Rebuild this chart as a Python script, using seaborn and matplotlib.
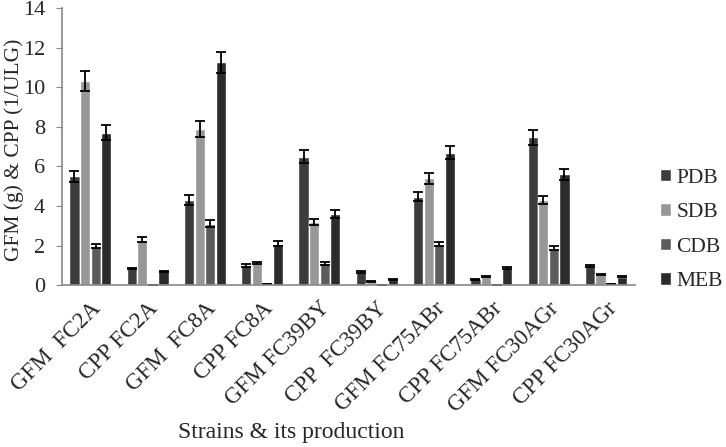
import pandas as pd
import numpy as np
import matplotlib
matplotlib.use('Agg')
import matplotlib.pyplot as plt
import seaborn as sns

# values
strains = ['GFM  FC2A', 'CPP FC2A', 'GFM  FC8A', 'CPP FC8A', 'GFM FC39BY',
           'CPP  FC39BY', 'GFM FC75ABr', 'CPP FC75ABr', 'GFM FC30AGr', 'CPP FC30AGr']
media = ['PDB', 'SDB', 'CDB', 'MEB']

pdb = [5.5, 0.85, 4.3, 1.0, 6.5, 0.68, 4.47, 0.3, 7.47, 0.97]
sdb = [10.3, 2.3, 7.87, 1.12, 3.2, 0.17, 5.4, 0.45, 4.3, 0.55]
cdb = [2.0, 0.02, 3.1, 0.05, 1.1, 0.02, 2.1, 0.0, 1.9, 0.06]
meb = [7.7, 0.7, 11.25, 2.1, 3.6, 0.3, 6.7, 0.87, 5.6, 0.42]

pdb_err = [0.28, 0.04, 0.25, 0.06, 0.33, 0.04, 0.22, 0.03, 0.38, 0.05]
sdb_err = [0.5, 0.12, 0.4, 0.06, 0.16, 0.02, 0.27, 0.03, 0.2, 0.03]
cdb_err = [0.1, 0.0, 0.18, 0.0, 0.07, 0.0, 0.1, 0.0, 0.1, 0.0]
meb_err = [0.38, 0.04, 0.55, 0.13, 0.2, 0.02, 0.33, 0.04, 0.28, 0.03]

colors = ['#3c3c3c', '#979797', '#5c5c5c', '#2c2c2c']

df = pd.DataFrame({
    'strain': strains * 4,
    'medium': np.repeat(media, len(strains)),
    'value': pdb + sdb + cdb + meb,
})
errs = [pdb_err, sdb_err, cdb_err, meb_err]

sns.set_style('white')
plt.rcParams['font.family'] = ['Liberation Serif', 'DejaVu Serif']

fig = plt.figure(figsize=(7.26, 4.47), dpi=100)
ax = fig.add_axes([0.085, 0.362, 0.789, 0.62])

sns.barplot(data=df, x='strain', y='value', hue='medium', hue_order=media,
            palette=colors, width=0.74, gap=0.04, saturation=1, ax=ax, errorbar=None)

for cont, e in zip(ax.containers, errs):
    xs = [p.get_x() + p.get_width() / 2 for p in cont.patches]
    ys = [p.get_height() for p in cont.patches]
    ax.errorbar(xs, ys, yerr=e, fmt='none', ecolor='black', elinewidth=1.3,
                capsize=3.5, capthick=1.3)

ax.set_ylim(0, 14)
ax.set_yticks(range(0, 15, 2))
ax.set_xlim(-0.5, len(strains) - 0.5)
ax.tick_params(axis='y', labelsize=16, length=4, color='#888888', left=True, pad=8)
ax.tick_params(axis='x', labelsize=16.5, length=0, pad=9)
plt.setp(ax.get_xticklabels(), rotation=45, ha='right', rotation_mode='anchor')

for side in ['top', 'right']:
    ax.spines[side].set_visible(False)
for side in ['left', 'bottom']:
    ax.spines[side].set_color('#888888')
    ax.spines[side].set_linewidth(1.2)

ax.set_xlabel('Strains & its production', fontsize=17)
ax.xaxis.set_label_coords(0.40, -0.495)
ax.set_ylabel('GFM (g) & CPP (1/ULG)', fontsize=15.5)
ax.yaxis.set_label_coords(-0.065, 0.49)

ax.legend(title=None, frameon=False, fontsize=15.5, loc='center left',
          bbox_to_anchor=(1.045, 0.2), borderpad=0, borderaxespad=0,
          handlelength=0.5, handleheight=0.5, handletextpad=0.25, labelspacing=0.72)

plt.savefig('out.png', dpi=100)
